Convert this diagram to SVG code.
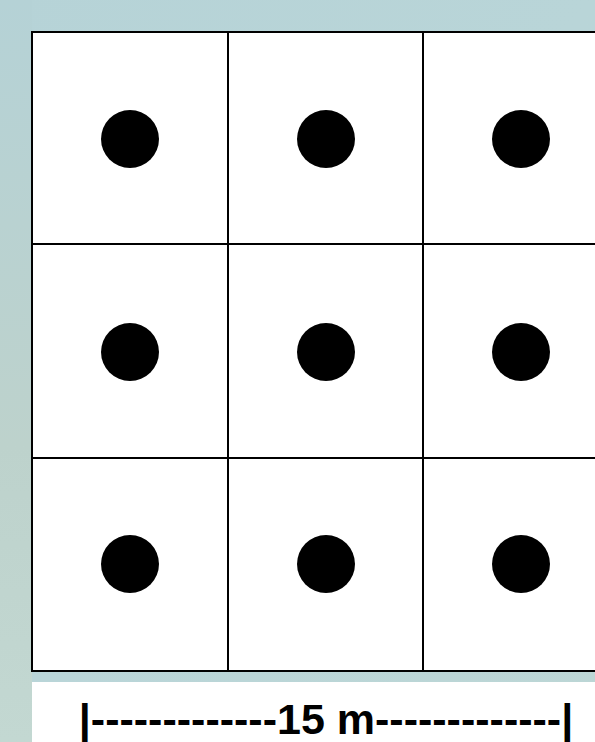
<svg xmlns="http://www.w3.org/2000/svg" width="595" height="742" viewBox="0 0 595 742">
  <defs>
    <linearGradient id="bg" x1="0" y1="0" x2="1" y2="1">
      <stop offset="0" stop-color="#b6d3d7"/>
      <stop offset="0.5" stop-color="#b9d5d8"/>
      <stop offset="1" stop-color="#bcd6d5"/>
    </linearGradient>
    <linearGradient id="side" x1="0" y1="0" x2="0" y2="1">
      <stop offset="0" stop-color="#b5d2d6"/>
      <stop offset="0.6" stop-color="#bdd2cc"/>
      <stop offset="1" stop-color="#c3d8d2"/>
    </linearGradient>
  </defs>
  <style>
    .cell { fill: #ffffff; stroke: #000000; stroke-width: 2; }
    .dot { fill: #000000; }
    .scale { font-family: "Liberation Sans", Arial, sans-serif; font-weight: bold; font-size: 43px; fill: #000000; }
  </style>
  <rect x="0" y="0" width="595" height="742" fill="url(#bg)"/>
  <rect x="0" y="0" width="32" height="742" fill="url(#side)"/>
  <g id="grid">
    <g id="cell-1-1"><rect class="cell" x="32" y="32" width="196" height="212"/><circle class="dot" cx="130" cy="139" r="29"/></g>
    <g id="cell-1-2"><rect class="cell" x="228" y="32" width="195" height="212"/><circle class="dot" cx="326" cy="139" r="29"/></g>
    <g id="cell-1-3"><rect class="cell" x="423" y="32" width="200" height="212"/><circle class="dot" cx="521" cy="139" r="29"/></g>
    <g id="cell-2-1"><rect class="cell" x="32" y="244" width="196" height="214"/><circle class="dot" cx="130" cy="352" r="29"/></g>
    <g id="cell-2-2"><rect class="cell" x="228" y="244" width="195" height="214"/><circle class="dot" cx="326" cy="352" r="29"/></g>
    <g id="cell-2-3"><rect class="cell" x="423" y="244" width="200" height="214"/><circle class="dot" cx="521" cy="352" r="29"/></g>
    <g id="cell-3-1"><rect class="cell" x="32" y="458" width="196" height="213"/><circle class="dot" cx="130" cy="564" r="29"/></g>
    <g id="cell-3-2"><rect class="cell" x="228" y="458" width="195" height="213"/><circle class="dot" cx="326" cy="564" r="29"/></g>
    <g id="cell-3-3"><rect class="cell" x="423" y="458" width="200" height="213"/><circle class="dot" cx="521" cy="564" r="29"/></g>
  </g>
  <g id="scale-label">
    <rect x="32" y="682" width="563" height="60" fill="#ffffff"/>
    <text class="scale" x="326" y="734" text-anchor="middle">|-------------15 m-------------|</text>
  </g>
</svg>
